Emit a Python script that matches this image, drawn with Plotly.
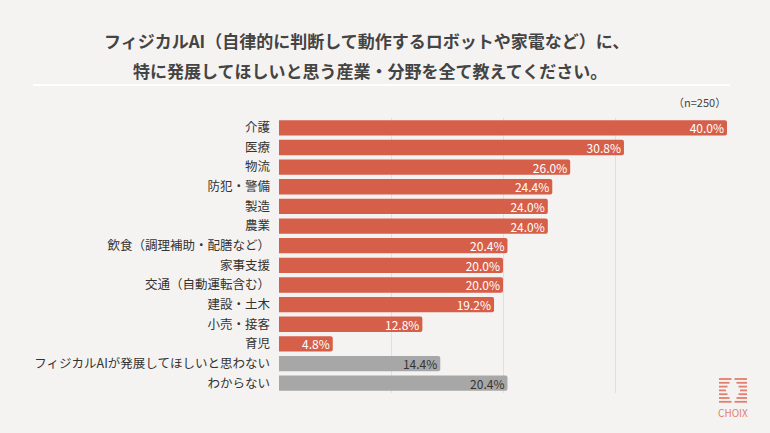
import plotly.graph_objects as go

# Survey: fields where respondents want physical AI to develop (n=250)
categories = [
    "介護", "医療", "物流", "防犯・警備", "製造", "農業",
    "飲食（調理補助・配膳など）", "家事支援", "交通（自動運転含む）",
    "建設・土木", "小売・接客", "育児",
    "フィジカルAIが発展してほしいと思わない", "わからない",
]
values = [40.0, 30.8, 26.0, 24.4, 24.0, 24.0, 20.4, 20.0, 20.0, 19.2, 12.8, 4.8, 14.4, 20.4]
is_other = [False] * 12 + [True, True]

title_lines = [
    "フィジカルAI（自律的に判断して動作するロボットや家電など）に、",
    "特に発展してほしいと思う産業・分野を全て教えてください。",
]

ORANGE = "#d65f4a"
GREY = "#a7a7a7"
BG = "#f5f3f1"
FONT = "Noto Sans CJK JP"

W, H = 770, 433
L, R, T, B = 279, 43, 118, 40

bar_colors = [GREY if o else ORANGE for o in is_other]
text_colors = ["#333333" if o else "#ffffff" for o in is_other]

fig = go.Figure()
fig.add_trace(go.Bar(
    y=categories,
    x=values,
    orientation="h",
    marker=dict(color=bar_colors, cornerradius=2, line=dict(width=0)),
    text=[f"{v:.1f}%" for v in values],
    textposition="inside",
    insidetextanchor="end",
    constraintext="none",
    textfont=dict(family=FONT, size=12, color=text_colors),
    cliponaxis=False,
    hoverinfo="skip",
))


def px_x(px):
    return (px - L) / (W - L - R)


def px_y(py):
    return (H - B - py) / (H - T - B)


shapes = [
    # white rule under the title
    dict(type="line", xref="paper", yref="paper",
         x0=px_x(33), x1=px_x(730), y0=px_y(85), y1=px_y(85),
         line=dict(color="#ffffff", width=2)),
]

# CHOIX logo: stacked strokes with a diamond-shaped gap in the middle
logo_color = "#e07f6e"
cx, top = 733, 379
gaps = [1.5, 3.5, 5.5, 7, 5.5, 3.5, 1.5]
for i, g in enumerate(gaps):
    yy = top + i * 3.8
    shapes.append(dict(type="line", xref="paper", yref="paper",
                       x0=px_x(cx - 14), x1=px_x(cx - g), y0=px_y(yy), y1=px_y(yy),
                       line=dict(color=logo_color, width=1.8)))
    shapes.append(dict(type="line", xref="paper", yref="paper",
                       x0=px_x(cx + g), x1=px_x(cx + 14), y0=px_y(yy), y1=px_y(yy),
                       line=dict(color=logo_color, width=1.8)))

annotations = [
    dict(text=f"<b>{title_lines[0]}</b>", xref="paper", yref="paper",
         x=px_x(366), y=px_y(41), xanchor="center", yanchor="middle",
         showarrow=False, font=dict(family=FONT, size=17, color="#444444")),
    dict(text=f"<b>{title_lines[1]}</b>", xref="paper", yref="paper",
         x=px_x(370), y=px_y(70), xanchor="center", yanchor="middle",
         showarrow=False, font=dict(family=FONT, size=17, color="#444444")),
    dict(text="（n=250）", xref="paper", yref="paper",
         x=px_x(728), y=px_y(102), xanchor="right", yanchor="middle",
         showarrow=False, font=dict(family=FONT, size=11, color="#444444")),
    dict(text="CHOIX", xref="paper", yref="paper",
         x=px_x(cx), y=px_y(412), xanchor="center", yanchor="middle",
         showarrow=False, font=dict(family=FONT, size=10, color=logo_color)),
]

fig.update_layout(
    width=W, height=H,
    paper_bgcolor=BG, plot_bgcolor=BG,
    margin=dict(l=L, r=R, t=T, b=B),
    bargap=0.22,
    showlegend=False,
    xaxis=dict(
        range=[0, 40], showticklabels=False, showgrid=True,
        gridcolor="#e2dfdc", gridwidth=1, zeroline=False,
        dtick=10, fixedrange=True,
    ),
    yaxis=dict(
        autorange="reversed", showgrid=False, zeroline=False,
        tickfont=dict(family=FONT, size=12.5, color="#333333"),
        ticklabelstandoff=8, ticks="", fixedrange=True,
    ),
    shapes=shapes,
    annotations=annotations,
    font=dict(family=FONT),
)

fig.write_html("out.html", config={"displayModeBar": False},
               post_script="document.body.style.margin='0';")
